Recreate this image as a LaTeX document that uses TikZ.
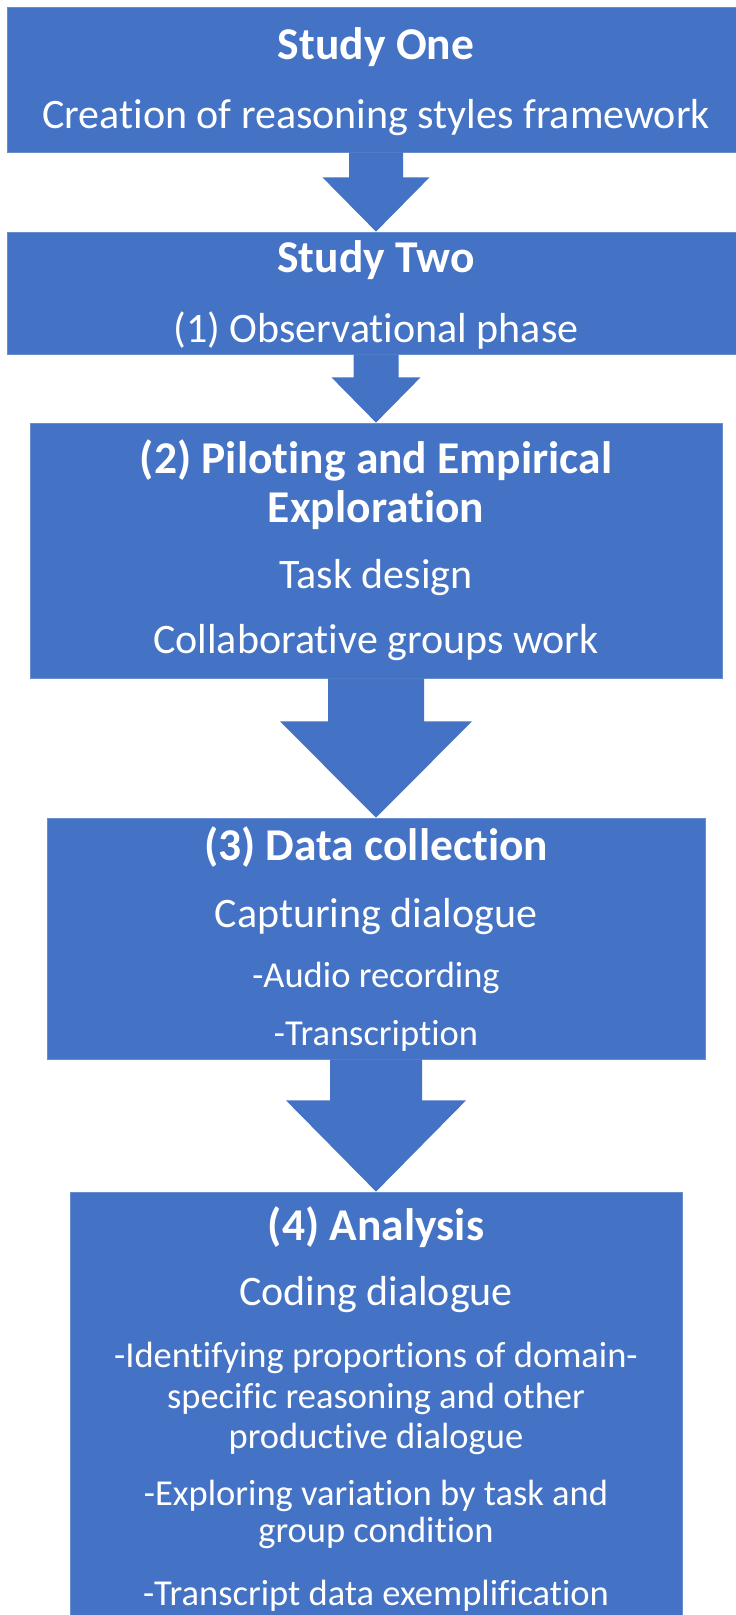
\documentclass[tikz,border=0pt]{standalone}
\usepackage{fontspec}
\setmainfont{Carlito}[Ligatures=NoCommon]
\usetikzlibrary{calc}

\definecolor{boxblue}{HTML}{4472C4}

\tikzset{
  stage/.style={rectangle,fill=boxblue,draw=boxblue!80!white,line width=0.8pt,inner sep=0pt},
  head/.style={anchor=base,text=white,font=\fontsize{45.5}{50}\selectfont\bfseries},
  body/.style={anchor=base,text=white,font=\fontsize{42}{46}\selectfont},
  sub/.style={anchor=base,text=white,font=\fontsize{36.5}{40}\selectfont},
  flow/.style={fill=boxblue},
}

\begin{document}
\begin{tikzpicture}[x=1pt,y=-1pt]
\useasboundingbox (0,0) rectangle (736,1615);

\node [stage,minimum width=738,minimum height=145] (s1) at (376,79.5) {};
\node [stage,minimum width=738,minimum height=122] (s2) at (376,293) {};
\node [stage,minimum width=692,minimum height=255] (s3) at (376,550.5) {};
\node [stage,minimum width=658,minimum height=241] (s4) at (376,938.5) {};
\node [stage,minimum width=612,minimum height=438] (s5) at (376,1411) {};

\node [head] (t1a) at (376,59) {Study One};
\node [body] (t1b) at (376,128) {Creation of reasoning styles framework};

\node [head] (t2a) at (376,272) {Study Two};
\node [body] (t2b) at (376,342) {(1) Observational phase};

\node [head] (t3a) at (376,473) {(2) Piloting and Empirical};
\node [head] (t3b) at (376,522) {Exploration};
\node [body] (t3c) at (376,588) {Task design};
\node [body] (t3d) at (376,653) {Collaborative groups work};

\node [head] (t4a) at (376,860) {(3) Data collection};
\node [body] (t4b) at (376,927) {Capturing dialogue};
\node [sub]  (t4c) at (376,987) {-Audio recording};
\node [sub]  (t4d) at (376,1045) {-Transcription};

\node [head] (t5a) at (376,1240) {(4) Analysis};
\node [body] (t5b) at (376,1305) {Coding dialogue};
\node [sub]  (t5c) at (376,1367) {-Identifying proportions of domain-};
\node [sub]  (t5d) at (376,1408) {specific reasoning and other};
\node [sub]  (t5e) at (376,1448) {productive dialogue};
\node [sub]  (t5f) at (376,1505) {-Exploring variation by task and};
\node [sub]  (t5g) at (376,1542) {group condition};
\node [sub]  (t5h) at (376,1605) {-Transcript data exemplification};

% block arrows between the stages
\fill [flow] ($(s1.south)+(-27,0)$) -- ($(s1.south)+(-27,25)$) -- ($(s1.south)+(-53.5,25)$)
	-- (s2.north) -- ($(s1.south)+(53.5,25)$) -- ($(s1.south)+(27,25)$) -- ($(s1.south)+(27,0)$) -- cycle;
\fill [flow] ($(s2.south)+(-22.5,0)$) -- ($(s2.south)+(-22.5,23)$) -- ($(s2.south)+(-44.5,23)$)
	-- (s3.north) -- ($(s2.south)+(44.5,23)$) -- ($(s2.south)+(22.5,23)$) -- ($(s2.south)+(22.5,0)$) -- cycle;
\fill [flow] ($(s3.south)+(-48,0)$) -- ($(s3.south)+(-48,43)$) -- ($(s3.south)+(-96,43)$)
	-- (s4.north) -- ($(s3.south)+(96,43)$) -- ($(s3.south)+(48,43)$) -- ($(s3.south)+(48,0)$) -- cycle;
\fill [flow] ($(s4.south)+(-46,0)$) -- ($(s4.south)+(-46,41)$) -- ($(s4.south)+(-90,41)$)
	-- (s5.north) -- ($(s4.south)+(90,41)$) -- ($(s4.south)+(46,41)$) -- ($(s4.south)+(46,0)$) -- cycle;

\end{tikzpicture}
\end{document}
